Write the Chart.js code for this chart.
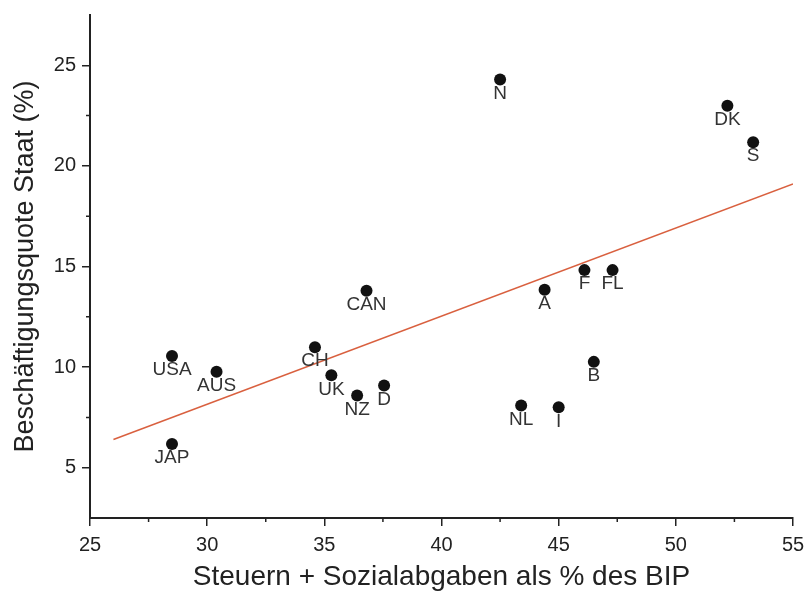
<!DOCTYPE html>
<html>
<head>
<meta charset="utf-8">
<script src="https://cdn.jsdelivr.net/npm/chart.js@4"></script>
<style>
  body { margin: 0; background: #fff; }
  #wrap { width: 807px; height: 595px; }
</style>
</head>
<body>
<div id="wrap"><canvas id="chart"></canvas></div>
<script>
  const countries = ['USA', 'AUS', 'JAP', 'CAN', 'CH', 'UK', 'NZ', 'D', 'N', 'A', 'NL', 'I', 'F', 'FL', 'B', 'DK', 'S'];
  const taxShare = [28.5, 30.4, 28.5, 36.8, 34.6, 35.3, 36.4, 37.55, 42.5, 44.4, 43.4, 45.0, 46.1, 47.3, 46.5, 52.2, 53.3];
  const publicEmployment = [10.55, 9.77, 6.18, 13.79, 10.99, 9.59, 8.59, 9.09, 24.3, 13.84, 8.09, 8.0, 14.82, 14.82, 10.26, 22.99, 21.18];

  // regression line end points
  const fitX = [26, 55];
  const fitY = [6.4, 19.1];

  const xTicks = [25, 30, 35, 40, 45, 50, 55];
  const yTicks = [5, 10, 15, 20, 25];
  const xMinor = [27.5, 32.5, 37.5, 42.5, 47.5, 52.5];
  const yMinor = [7.5, 12.5, 17.5, 22.5];

  const font = '"Liberation Sans", Arial, sans-serif';
  const ink = '#222';

  const labelPlugin = {
    id: 'pointLabels',
    afterDatasetsDraw(chart) {
      const ctx = chart.ctx;
      const meta = chart.getDatasetMeta(0);
      ctx.save();
      ctx.font = '19px ' + font;
      ctx.fillStyle = '#333';
      ctx.textAlign = 'center';
      ctx.textBaseline = 'middle';
      meta.data.forEach((pt, i) => {
        ctx.fillText(countries[i], pt.x, pt.y + 14);
      });
      ctx.restore();
    }
  };

  const minorTicks = {
    id: 'minorTicks',
    afterDraw(chart) {
      const ctx = chart.ctx;
      const xs = chart.scales.x, ys = chart.scales.y;
      ctx.save();
      ctx.strokeStyle = ink;
      ctx.lineWidth = 1.5;
      ctx.beginPath();
      xMinor.forEach(v => {
        const px = xs.getPixelForValue(v);
        ctx.moveTo(px, xs.top);
        ctx.lineTo(px, xs.top + 4);
      });
      yMinor.forEach(v => {
        const py = ys.getPixelForValue(v);
        ctx.moveTo(ys.right, py);
        ctx.lineTo(ys.right - 4, py);
      });
      ctx.stroke();
      ctx.restore();
    }
  };

  new Chart(document.getElementById('chart'), {
    type: 'scatter',
    data: {
      datasets: [
        {
          data: taxShare.map((x, i) => ({ x, y: publicEmployment[i] })),
          pointRadius: 6,
          pointHoverRadius: 6,
          backgroundColor: '#111',
          borderWidth: 0
        },
        {
          type: 'line',
          data: fitX.map((x, i) => ({ x, y: fitY[i] })),
          borderColor: '#d9603f',
          borderWidth: 1.5,
          pointRadius: 0,
          fill: false
        }
      ]
    },
    options: {
      responsive: true,
      maintainAspectRatio: false,
      animation: false,
      layout: { padding: { top: 15, right: 0, left: 0, bottom: 0 } },
      plugins: { legend: { display: false }, tooltip: { enabled: false } },
      scales: {
        x: {
          type: 'linear',
          min: 25,
          max: 55,
          afterBuildTicks: s => { s.ticks = xTicks.map(v => ({ value: v })); },
          afterFit: s => { s.height = 77; s.paddingRight = 14; s.paddingLeft = 0; },
          border: { color: ink, width: 2 },
          grid: { drawOnChartArea: false, tickLength: 8, color: ink, lineWidth: 1.5 },
          ticks: { color: ink, font: { family: font, size: 20 }, padding: 7, maxRotation: 0 },
          title: {
            display: true,
            text: 'Steuern + Sozialabgaben als % des BIP',
            color: ink,
            font: { family: font, size: 28 },
            padding: { top: 0, bottom: 1 }
          }
        },
        y: {
          min: 2.5,
          max: 27.5,
          afterBuildTicks: s => { s.ticks = yTicks.map(v => ({ value: v })); },
          afterFit: s => { s.width = 90; s.paddingTop = 0; s.paddingBottom = 0; },
          border: { color: ink, width: 2 },
          grid: { drawOnChartArea: false, tickLength: 8, color: ink, lineWidth: 1.5 },
          ticks: { color: ink, font: { family: font, size: 20 }, padding: 6 },
          title: {
            display: true,
            text: 'Beschäftigungsquote Staat (%)',
            color: ink,
            font: { family: font, size: 27 },
            padding: { top: 9, bottom: 0 }
          }
        }
      }
    },
    plugins: [labelPlugin, minorTicks]
  });
</script>
</body>
</html>
